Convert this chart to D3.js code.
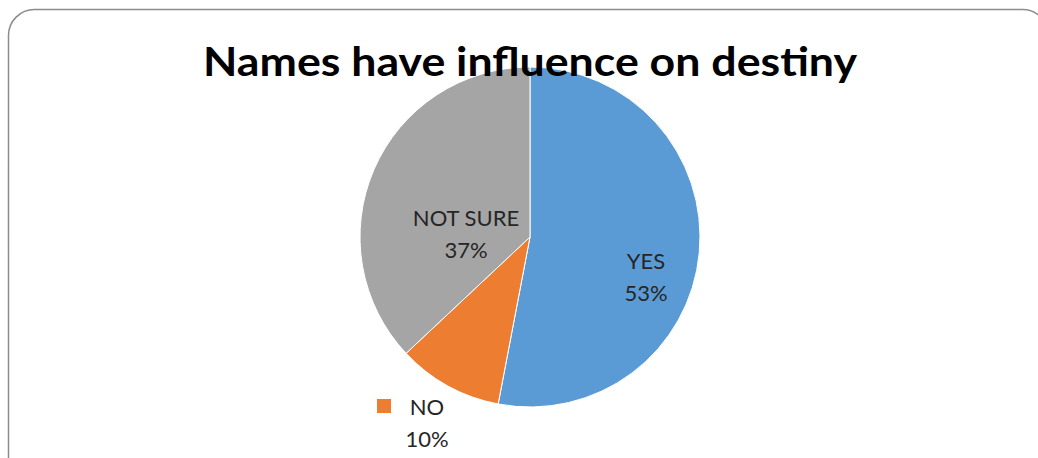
<!DOCTYPE html>
<html>
<head>
<meta charset="utf-8">
<script src="https://cdn.jsdelivr.net/npm/d3@7/dist/d3.min.js"></script>
<style>
  html, body { margin: 0; padding: 0; background: #fff; }
  svg { display: block; }
  text { font-family: Lato, "Open Sans", sans-serif; }
</style>
</head>
<body>
<svg id="chart" width="1038" height="458"></svg>
<script>
// Survey answers and their shares (percent)
const categories = ["YES", "NO", "NOT SURE"];
const values = [53, 10, 37];
const colors = ["#5B9BD5", "#ED7D31", "#A5A5A5"];
const title = "Names have influence on destiny";

const svg = d3.select("#chart");
const cx = 530, cy = 237, r = 170;

// Chart frame with rounded corners
svg.append("rect")
  .attr("x", 8.5).attr("y", 9.5)
  .attr("width", 1040).attr("height", 480)
  .attr("rx", 26).attr("ry", 26)
  .attr("fill", "#fff")
  .attr("stroke", "#8c8c8c")
  .attr("stroke-width", 1.5);

const color = d3.scaleOrdinal().domain(categories).range(colors);

const pie = d3.pie().sort(null).value(d => d.value);
const data = categories.map((c, i) => ({ name: c, value: values[i] }));
const arcs = pie(data);
const arc = d3.arc().innerRadius(0).outerRadius(r);

const g = svg.append("g").attr("transform", `translate(${cx},${cy})`);
g.selectAll("path.slice")
  .data(arcs)
  .join("path")
  .attr("class", "slice")
  .attr("d", arc)
  .attr("fill", d => color(d.data.name))
  .attr("stroke", "#fff")
  .attr("stroke-width", 1);

// Title drawn over the pie
svg.append("text")
  .attr("x", cx).attr("y", 76)
  .attr("text-anchor", "middle")
  .attr("font-size", 41)
  .attr("font-weight", "bold")
  .attr("fill", "#000")
  .attr("textLength", 654)
  .attr("lengthAdjust", "spacingAndGlyphs")
  .text(title);

// Data labels: category name over percentage
const labelPos = {
  "YES":      { dx: 116, dy: 32, inside: true },
  "NOT SURE": { dx: -64, dy: -11, inside: true },
  "NO":       { dx: -103, dy: 178, inside: false }
};
const fmt = d => d3.format(".0f")(d) + "%";
const lab = g.selectAll("g.label")
  .data(arcs)
  .join("g")
  .attr("class", "label")
  .attr("transform", d => {
    const p = labelPos[d.data.name];
    return `translate(${p.dx},${p.dy})`;
  });
lab.append("text")
  .attr("text-anchor", "middle")
  .attr("font-size", 22)
  .attr("fill", "#262626")
  .text(d => d.data.name);
lab.append("text")
  .attr("text-anchor", "middle")
  .attr("y", 32)
  .attr("font-size", 22)
  .attr("fill", "#262626")
  .text(d => fmt(d.data.value));
// Legend key for the label placed outside the pie
lab.filter(d => !labelPos[d.data.name].inside)
  .append("rect")
  .attr("x", -50).attr("y", -16)
  .attr("width", 14).attr("height", 14)
  .attr("fill", d => color(d.data.name));
</script>
</body>
</html>
